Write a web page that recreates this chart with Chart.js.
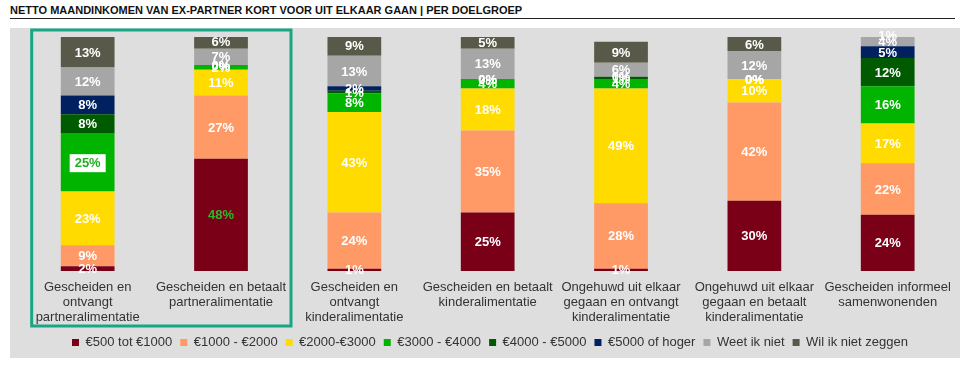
<!DOCTYPE html>
<html>
<head>
<meta charset="utf-8">
<script src="https://cdn.jsdelivr.net/npm/chart.js@4.4.1/dist/chart.umd.min.js"></script>
<style>
  html, body { margin: 0; padding: 0; background: #fff; }
  body { width: 960px; height: 369px; position: relative; overflow: hidden; font-family: 'Liberation Sans', Arial, sans-serif; }
  #title { position: absolute; left: 10px; top: 4px; width: 945px; font-size: 11px; font-weight: bold; color: #111;
           border-bottom: 1px solid #222; padding-bottom: 2px; }
  #panel { position: absolute; left: 10px; top: 28px; width: 950px; height: 330px; background: #dedede; }
  #myChart { position: absolute; left: 0; top: 0; }
</style>
</head>
<body>
<div id="title">NETTO MAANDINKOMEN VAN EX-PARTNER KORT VOOR UIT ELKAAR GAAN | PER DOELGROEP</div>
<div id="panel"></div>
<canvas id="myChart" width="960" height="369"></canvas>
<script>
var groups = [
    ['Gescheiden en', 'ontvangt', 'partneralimentatie'],
    ['Gescheiden en betaalt', 'partneralimentatie'],
    ['Gescheiden en', 'ontvangt', 'kinderalimentatie'],
    ['Gescheiden en betaalt', 'kinderalimentatie'],
    ['Ongehuwd uit elkaar', 'gegaan en ontvangt', 'kinderalimentatie'],
    ['Ongehuwd uit elkaar', 'gegaan en betaalt', 'kinderalimentatie'],
    ['Gescheiden informeel', 'samenwonenden']
];
var inc500 = [2, 48, 1, 25, 1, 30, 24];
var inc1000 = [9, 27, 24, 35, 28, 42, 22];
var inc2000 = [23, 11, 43, 18, 49, 10, 17];
var inc3000 = [25, 2, 8, 4, 4, 0, 16];
var inc4000 = [8, 0, 1, 0, 1, 0, 12];
var inc5000 = [8, 0, 2, 0, 0, 0, 5];
var weetNiet = [12, 7, 13, 13, 6, 12, 4];
var zegNiet = [13, 6, 9, 5, 9, 6, 1];

var seriesNames = ['€500 tot €1000', '€1000 - €2000', '€2000-€3000', '€3000 - €4000',
    '€4000 - €5000', '€5000 of hoger', 'Weet ik niet', 'Wil ik niet zeggen'];
var seriesData = [inc500, inc1000, inc2000, inc3000, inc4000, inc5000, weetNiet, zegNiet];
var seriesColors = ['#7a0018', '#ff9966', '#ffdb00', '#00b400', '#005a00', '#002060', '#a6a6a6', '#595949'];

var font = "'Liberation Sans', Arial, sans-serif";

// percentages inside every segment
var segmentLabels = {
    id: 'segmentLabels',
    afterDatasetsDraw(chart) {
        var ctx = chart.ctx;
        ctx.save();
        ctx.font = 'bold 13px ' + font;
        ctx.textAlign = 'center';
        ctx.textBaseline = 'middle';
        chart.data.datasets.forEach(function (ds, di) {
            var meta = chart.getDatasetMeta(di);
            meta.data.forEach(function (bar, i) {
                var p = bar.getProps(['x', 'y', 'base'], true);
                var cy = (p.y + p.base) / 2 + 1;
                var txt = ds.data[i] + '%';
                if (di == 3 && i == 0) {
                    // highlighted value on a white tag
                    var w = ctx.measureText(txt).width + 10;
                    ctx.fillStyle = '#ffffff';
                    ctx.fillRect(p.x - w / 2, cy - 9, w, 18);
                    ctx.fillStyle = '#1fb01f';
                } else if (di == 0 && i == 1) {
                    ctx.fillStyle = '#2db52d';
                } else {
                    ctx.fillStyle = '#ffffff';
                }
                ctx.fillText(txt, p.x, cy);
            });
        });
        ctx.restore();
    }
};

// frame round the two partneralimentatie groups
var groupFrame = {
    id: 'groupFrame',
    afterDraw(chart) {
        var x = chart.scales.x;
        var area = chart.chartArea;
        var ctx = chart.ctx;
        ctx.save();
        ctx.strokeStyle = '#1aa684';
        ctx.lineWidth = 3;
        var left = x.getPixelForValue(0) - 56;
        var right = x.getPixelForValue(1) + 70;
        ctx.strokeRect(left, area.top - 7, right - left, area.bottom - area.top + 62);
        ctx.restore();
    }
};

var datasets = [];
for (let i = 0; i < seriesNames.length; i++) {
    datasets.push({
        label: seriesNames[i],
        data: seriesData[i],
        backgroundColor: seriesColors[i],
        borderWidth: 0,
        categoryPercentage: 1,
        barPercentage: 0.403
    });
}

var ctx = document.getElementById('myChart');
var chart = new Chart(ctx, {
    type: 'bar',
    data: { labels: groups, datasets: datasets },
    plugins: [segmentLabels, groupFrame],
    options: {
        responsive: false,
        animation: false,
        layout: { padding: { left: 21, right: 1, top: 37, bottom: 10 } },
        scales: {
            x: {
                stacked: true,
                grid: { display: false, drawTicks: false },
                border: { display: false },
                ticks: { color: '#333', font: { family: font, size: 13, lineHeight: 1.15 }, padding: 9, maxRotation: 0, autoSkip: false },
                afterFit: function (axis) { axis.height = 57; }
            },
            y: {
                stacked: true,
                display: false,
                min: 0,
                max: 100
            }
        },
        plugins: {
            legend: {
                position: 'bottom',
                labels: {
                    boxWidth: 7,
                    boxHeight: 7,
                    padding: 8,
                    color: '#333',
                    font: { family: font, size: 13 }
                }
            },
            tooltip: { enabled: false }
        }
    }
});
</script>
</body>
</html>
